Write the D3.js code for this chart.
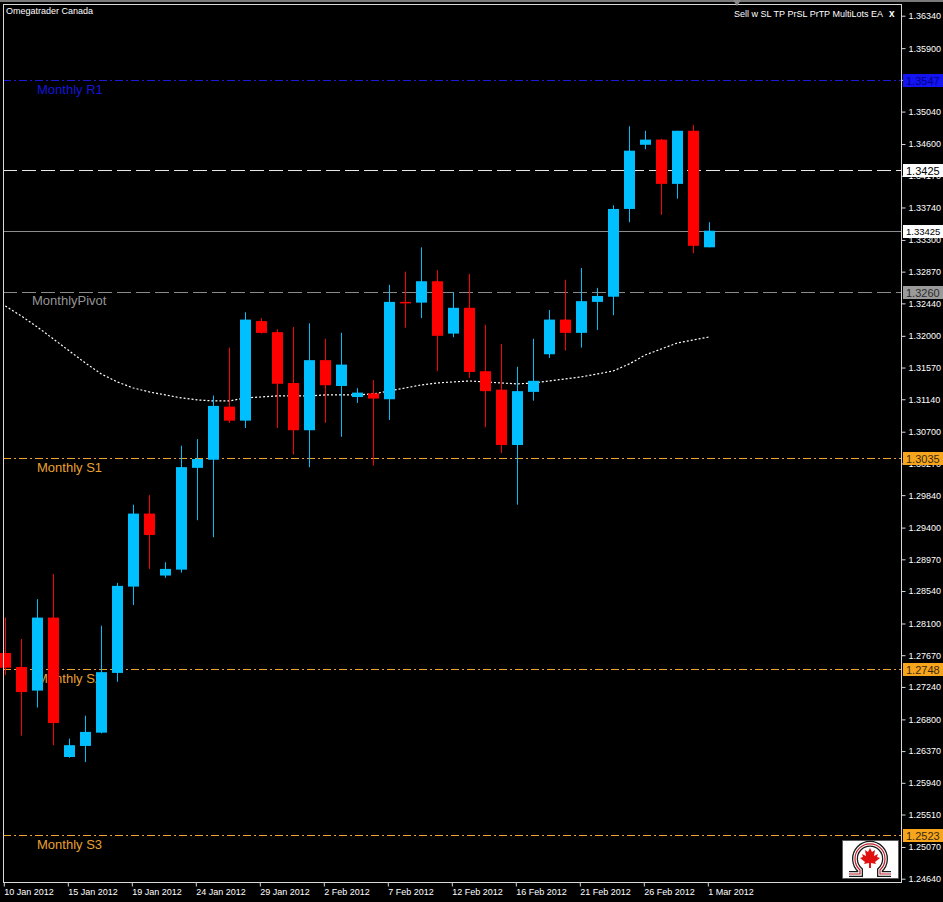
<!DOCTYPE html>
<html><head><meta charset="utf-8">
<script src="https://cdn.jsdelivr.net/npm/d3@7"></script>
<style>
html,body{margin:0;padding:0;background:#000;}
svg{display:block;font-family:"Liberation Sans",Arial,sans-serif;}
</style></head>
<body><svg id="c" width="943" height="902"></svg>
<script>
// ---------- DATA ----------
const opens  = [1.2770,1.2751,1.2719,1.2818,1.2629,1.2644,1.2662,1.2743,1.2860,1.2959,1.2875,1.2883,1.3021,1.3032,1.3104,1.3085,1.3220,1.3205,1.3136,1.3072,1.3167,1.3132,1.3117,1.3122,1.3114,1.3246,1.3245,1.3274,1.3203,1.3238,1.3152,1.3127,1.3052,1.3124,1.3175,1.3222,1.3204,1.3246,1.3253,1.3372,1.3459,1.3466,1.3406,1.3478,1.3320];
const highs  = [1.2818,1.2789,1.2843,1.2877,1.2654,1.2685,1.2807,1.2865,1.2971,1.2984,1.2893,1.3051,1.3060,1.3119,1.3184,1.3232,1.3224,1.3209,1.3212,1.3217,1.3196,1.3204,1.3129,1.3140,1.3269,1.3287,1.3320,1.3289,1.3259,1.3284,1.3215,1.3189,1.3158,1.3196,1.3235,1.3276,1.3292,1.3265,1.3377,1.3484,1.3478,1.3467,1.3478,1.3486,1.3354];
const lows   = [1.2740,1.2658,1.2696,1.2645,1.2628,1.2622,1.2661,1.2731,1.2835,1.2884,1.2872,1.2879,1.2950,1.2927,1.3082,1.3075,1.3203,1.3075,1.3039,1.3022,1.3082,1.3063,1.3109,1.3024,1.3086,1.3211,1.3224,1.3152,1.3198,1.3143,1.3076,1.3041,1.2971,1.3112,1.3170,1.3180,1.3184,1.3208,1.3228,1.3354,1.3453,1.3364,1.3386,1.3312,1.3320];
const closes = [1.2750,1.2717,1.2818,1.2675,1.2645,1.2663,1.2744,1.2861,1.2959,1.2930,1.2884,1.3022,1.3033,1.3105,1.3085,1.3222,1.3204,1.3135,1.3072,1.3167,1.3133,1.3161,1.3123,1.3115,1.3246,1.3245,1.3274,1.3200,1.3238,1.3151,1.3125,1.3052,1.3125,1.3139,1.3222,1.3204,1.3247,1.3254,1.3372,1.3451,1.3466,1.3406,1.3478,1.3322,1.33425];
const maValues = [1.32405,1.32269,1.32120,1.31958,1.31795,1.31632,1.31483,1.31375,1.31293,1.31239,1.31199,1.31158,1.31131,1.31117,1.31117,1.31158,1.31171,1.31185,1.31185,1.31185,1.31199,1.31199,1.31199,1.31212,1.31253,1.31293,1.31334,1.31361,1.31375,1.31388,1.31375,1.31361,1.31348,1.31361,1.31388,1.31415,1.31443,1.31483,1.31524,1.31619,1.31741,1.31822,1.31903,1.31944,1.31985];
const dateTickBars = [0,4,8,12,16,20,24,28,32,36,40,44];
const dateTickLabels = ["10 Jan 2012","15 Jan 2012","19 Jan 2012","24 Jan 2012","29 Jan 2012","2 Feb 2012","7 Feb 2012","12 Feb 2012","16 Feb 2012","21 Feb 2012","26 Feb 2012","1 Mar 2012"];
const priceTicks = [1.36340,1.35900,1.35470,1.35040,1.34600,1.34170,1.33740,1.33300,1.32870,1.32440,1.32000,1.31570,1.31140,1.30700,1.30270,1.29840,1.29400,1.28970,1.28540,1.28100,1.27670,1.27240,1.26800,1.26370,1.25940,1.25510,1.25070,1.24640];
const hiddenTickLabels = [1.35470];
const levelNames  = ["Monthly R1","","","MonthlyPivot","Monthly S1","Monthly S2","Monthly S3"];
const levelValues = [1.3547,1.3425,1.33425,1.3260,1.3035,1.2748,1.2523];
const levelTags   = ["1.3547","1.3425","1.33425","1.3260","1.3035","1.2748","1.2523"];
const levelKinds  = ["r1","white","bid","pivot","s","s","s"];

// ---------- SCALES ----------
const svg = d3.select("#c");
const W = 943, H = 902;
const plotL = 3, plotR = 901, plotT = 4, plotB = 882;
const x = d3.scaleLinear().domain([0, 44]).range([5.3, 709.3]);
const y = d3.scaleLinear().domain([1.24640, 1.36340]).range([878.7, 15.7]);

svg.append("rect").attr("width", W).attr("height", H).attr("fill", "#000");
svg.append("rect").attr("width", W).attr("height", 2).attr("fill", "#7a7a7a");

// ---------- LEVEL LINES ----------
const kindStyle = {
  r1:   {stroke:"#1a1ad8", dash:"8,3,2,3", text:"#1616d6", tagBg:"#1414f0", tagFg:"#00008a"},
  white:{stroke:"#e8e8e8", dash:"14,5",   text:"#fff",    tagBg:"#ffffff", tagFg:"#000"},
  bid:  {stroke:"#8c8c8c", dash:null,     text:"#fff",    tagBg:"#ffffff", tagFg:"#000"},
  pivot:{stroke:"#8a8a8a", dash:"14,5",   text:"#959595", tagBg:"#9a9a9a", tagFg:"#2a2a2a"},
  s:    {stroke:"#eea232", dash:"8,3,2,3", text:"#e8a232", tagBg:"#f7a51c", tagFg:"#3a2a10"}
};
const lv = svg.append("g");
levelValues.forEach((v, i) => {
  const st = kindStyle[levelKinds[i]];
  const yy = Math.round(y(v)) + 0.5;
  lv.append("line").attr("x1", plotL).attr("x2", plotR).attr("y1", yy).attr("y2", yy)
    .attr("stroke", st.stroke).attr("stroke-width", 1)
    .attr("stroke-dasharray", st.dash);
  if (levelNames[i]) {
    const isPivot = levelKinds[i] === "pivot";
    lv.append("text").attr("x", isPivot ? 32 : 37).attr("y", yy + (isPivot ? 12 : 13))
      .attr("fill", st.text).attr("font-size", 13).text(levelNames[i]);
  }
});

// ---------- MOVING AVERAGE ----------
svg.append("path").datum(maValues)
  .attr("d", d3.line().x((d, i) => x(i)).y(d => y(d)))
  .attr("fill", "none").attr("stroke", "#fff").attr("stroke-width", 1.2)
  .attr("stroke-dasharray", "2,2");

// ---------- CANDLES ----------
const bull = "#00bfff", bear = "#ff0000";
const cg = svg.append("g");
const idx = d3.range(opens.length);
cg.selectAll("line.w").data(idx).join("line")
  .attr("x1", i => Math.round(x(i)) + 0.5).attr("x2", i => Math.round(x(i)) + 0.5)
  .attr("y1", i => y(highs[i])).attr("y2", i => y(lows[i]))
  .attr("stroke", i => closes[i] >= opens[i] ? bull : bear).attr("stroke-width", 1);
cg.selectAll("rect.b").data(idx).join("rect")
  .attr("x", i => Math.round(x(i)) - 5)
  .attr("width", 11)
  .attr("y", i => y(Math.max(opens[i], closes[i])))
  .attr("height", i => Math.max(1.5, Math.abs(y(opens[i]) - y(closes[i]))))
  .attr("fill", i => closes[i] >= opens[i] ? bull : bear);

// ---------- FRAME ----------
svg.append("rect").attr("x", plotL + 0.5).attr("y", plotT + 0.5)
  .attr("width", plotR - plotL).attr("height", plotB - plotT)
  .attr("fill", "none").attr("stroke", "#d8d8d8");

// ---------- AXES ----------
const yAxis = d3.axisRight(y).tickValues(priceTicks)
  .tickFormat(d => hiddenTickLabels.includes(d) ? "" : d3.format(".5f")(d))
  .tickSize(4).tickPadding(3);
const ga = svg.append("g").attr("transform", `translate(${plotR + 0.5},0)`).call(yAxis);
ga.select(".domain").remove();
ga.selectAll("line").attr("stroke", "#d8d8d8");
ga.selectAll("text").attr("fill", "#fff").attr("font-size", 9)
  .attr("font-family", "Liberation Sans, Arial, sans-serif");

const xAxis = d3.axisBottom(x).tickValues(dateTickBars)
  .tickFormat((d, i) => dateTickLabels[i]).tickSize(4).tickPadding(2);
const gx = svg.append("g").attr("transform", `translate(-1.5,${plotB + 0.5})`).call(xAxis);
gx.select(".domain").remove();
gx.selectAll("line").attr("stroke", "#d8d8d8");
gx.selectAll("text").attr("fill", "#fff").attr("font-size", 9)
  .attr("text-anchor", "start").attr("dx", 0)
  .attr("font-family", "Liberation Sans, Arial, sans-serif");

// ---------- PRICE TAGS ----------
levelValues.forEach((v, i) => {
  const st = kindStyle[levelKinds[i]];
  const yy = Math.round(y(v));
  svg.append("rect").attr("x", 903).attr("y", yy - 6).attr("width", 40).attr("height", 13)
    .attr("fill", st.tagBg);
  const small = levelTags[i].length > 6;
  svg.append("text").attr("x", 906).attr("y", yy + (small ? 4 : 4.5))
    .attr("fill", st.tagFg).attr("font-size", small ? 9.5 : 11).text(levelTags[i]);
});

// ---------- TEXTS ----------
svg.append("text").attr("x", 6).attr("y", 14).attr("fill", "#fff").attr("font-size", 9)
  .text("Omegatrader Canada");
svg.append("text").attr("x", 883).attr("y", 17).attr("fill", "#fff").attr("font-size", 9)
  .attr("text-anchor", "end").text("Sell w SL TP PrSL PrTP MultiLots EA");
svg.append("text").attr("x", 889).attr("y", 17).attr("fill", "#fff").attr("font-size", 10)
  .attr("font-weight", "bold").text("x");
svg.append("path").attr("d", "M733,0 L741,0 L737,6 Z").attr("fill", "#8a8a8a");

// ---------- LOGO ----------
const logo = svg.append("g");
logo.append("rect").attr("x", 842.5).attr("y", 840.5).attr("width", 56).attr("height", 38)
  .attr("fill", "#fff").attr("stroke", "#555").attr("stroke-width", 0.8);
const omega = "M849,874 L860,874 L860,870 A15,15 0 1,1 880,870 L880,874 L891,874";
logo.append("path").attr("d", omega).attr("fill", "none")
  .attr("stroke", "#1a1a1a").attr("stroke-width", 6).attr("stroke-linejoin", "miter");
logo.append("path").attr("d", omega).attr("fill", "none")
  .attr("stroke", "#ffffff").attr("stroke-width", 3.4);
logo.append("path").attr("d", omega).attr("fill", "none")
  .attr("stroke", "#c0202a").attr("stroke-width", 1.2);
logo.append("path")
  .attr("d", "M870,848 L872,852 L875,850 L874,856 L878,854 L877,857 L880,858 L875,862 L876,864 L871,863 L871,868 L869,868 L869,863 L864,864 L865,862 L860,858 L863,857 L862,854 L866,856 L865,850 L868,852 Z")
  .attr("fill", "#e01010");
</script></body></html>
